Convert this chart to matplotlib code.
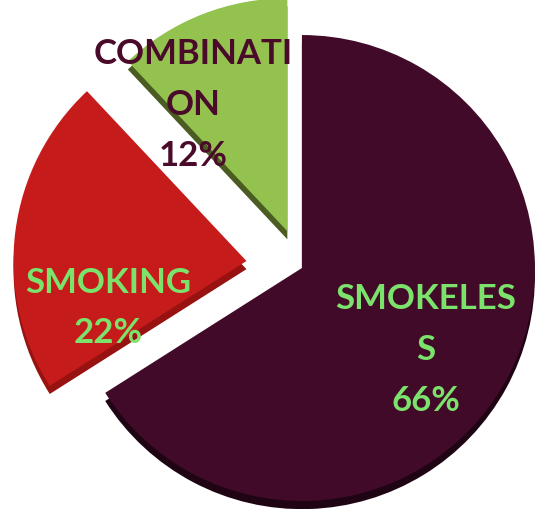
import matplotlib.pyplot as plt

# data
labels = ["SMOKELES\nS", "SMOKING", "COMBINATI\nON"]
shares = [66, 22, 12]

# styling
top_colors = ["#420a29", "#c61b1b", "#93c24f"]
side_colors = ["#1f0414", "#991212", "#4a5c22"]
text_colors = ["#7be36b", "#7be36b", "#4a0a2a"]
explode = [0.0, 0.24, 0.17]
label_pos = [(0.532, -0.352), (-0.833, -0.172), (-0.468, 0.70)]

fig = plt.figure(figsize=(5.37, 5.09), dpi=100)
ax = fig.add_axes([0, 0, 1, 1])

# slab thickness: darker copy shifted down
thick = 0.035
ax.pie(shares, colors=side_colors, explode=explode, startangle=90,
       counterclock=False, radius=1.0, center=(0, -thick),
       wedgeprops=dict(linewidth=0))
ax.pie(shares, colors=top_colors, explode=explode, startangle=90,
       counterclock=False, radius=1.0, center=(0, 0),
       wedgeprops=dict(linewidth=0))

for lab, val, (x, y), c in zip(labels, shares, label_pos, text_colors):
    ax.text(x, y, f"{lab}\n{val}%", ha="center", va="center", color=c,
            fontsize=25, fontweight="bold", family="Lato", linespacing=1.72)

ax.set_xlim(-1.296, 1.009)
ax.set_ylim(-1.034, 1.150)
ax.set_aspect("equal")
ax.axis("off")

fig.savefig("out.png", dpi=100)
